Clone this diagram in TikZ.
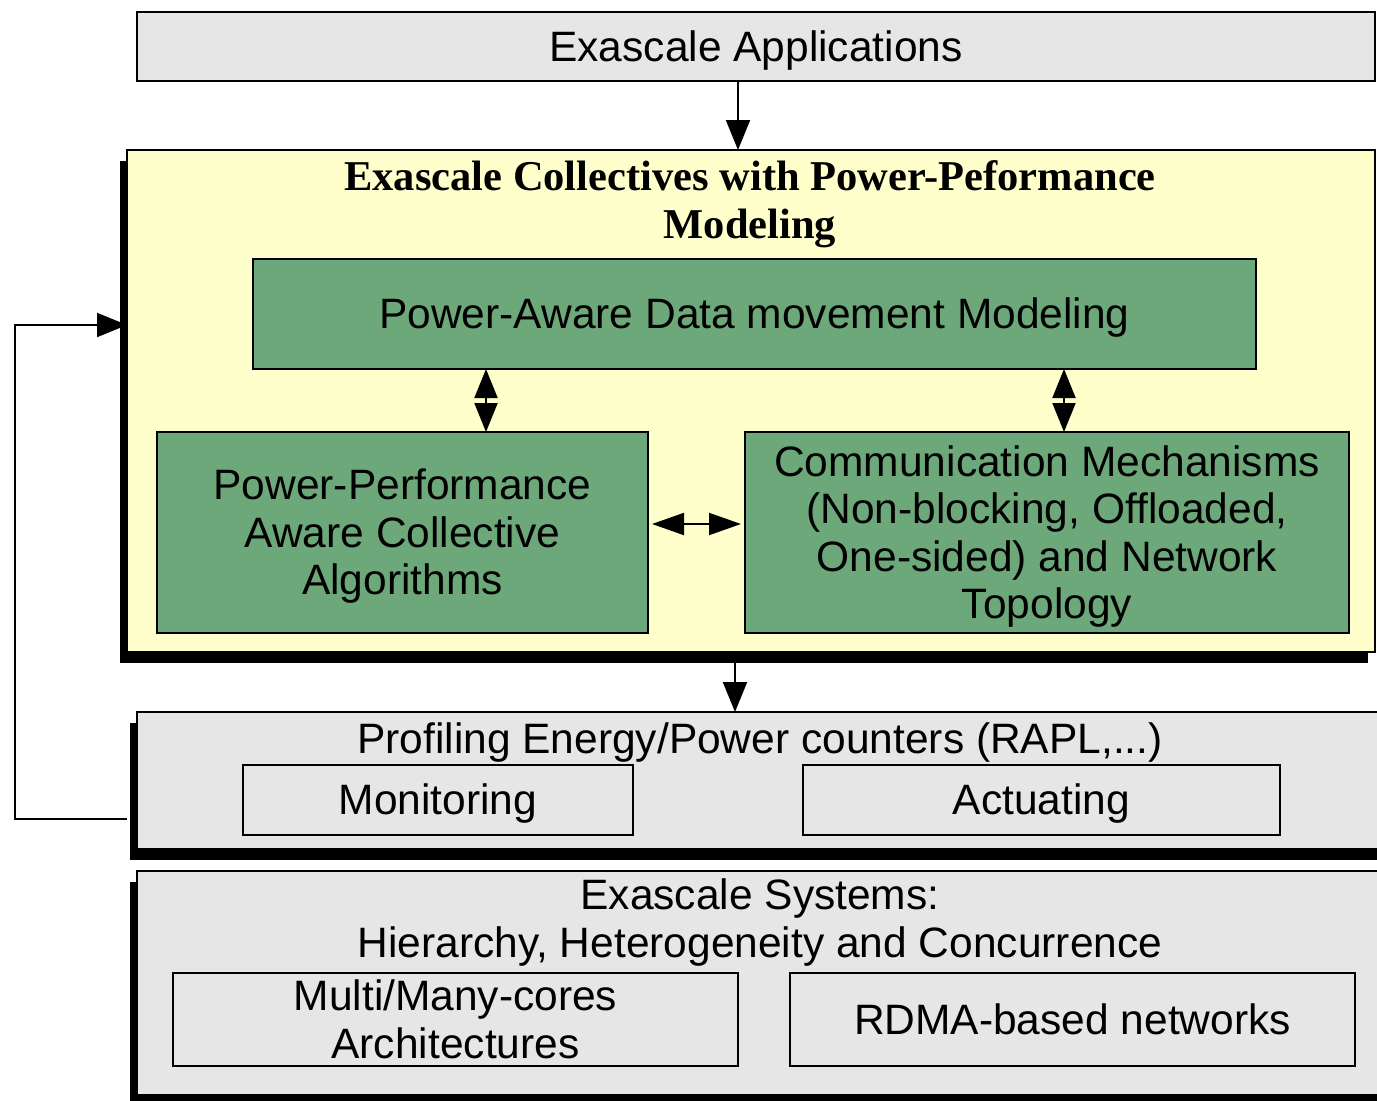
\documentclass[tikz,border=0pt]{standalone}
\usepackage{fontspec}
\setmainfont{Liberation Sans}
\newfontfamily\titlefont{Liberation Serif}
\usetikzlibrary{arrows.meta,shadows}
\definecolor{boxgray}{RGB}{230,230,230}
\definecolor{boxyellow}{RGB}{255,255,204}
\definecolor{boxgreen}{RGB}{108,168,122}
\begin{document}
\begin{tikzpicture}[x=1pt,y=-1pt,
  every node/.style={font=\fontsize{42.5}{47.5}\selectfont, inner sep=0pt, align=center},
  box/.style={draw=black, line width=2.5pt, minimum width=#1, outer sep=0pt},
  graybox/.style={box=#1, fill=boxgray},
  shadowed/.style={general shadow={fill=black, shadow xshift=-7.5pt, shadow yshift=-10.5pt}},
  greenbox/.style={draw=black, line width=2pt, fill=boxgreen, minimum width=#1, outer sep=0pt},
  innerbox/.style={draw=black, line width=2pt, minimum width=#1, outer sep=0pt},
  conn/.style={line width=2pt},
  tip/.style={-{Triangle[length=30pt,width=24pt]}},
  dtip/.style={{Triangle[length=29pt,width=23pt]}-{Triangle[length=29pt,width=23pt]}},
]
\path[use as bounding box] (0,0) rectangle (1377,1101);
\clip (0,0) rectangle (1377,1101);
% boxes
\node[graybox=1238pt, minimum height=69pt] (app) at (756,46.5) {};
\node (appt) at ([yshift=-4pt]app.center) {Exascale Applications};
\node[box=1248pt, minimum height=502pt, fill=boxyellow, shadowed] (yel) at (751,401) {};
\node[font=\titlefont\bfseries\fontsize{42.5}{47.5}\selectfont] (ttl) at (750,204) {Exascale Collectives with Power-Peformance\\Modeling};
\node[greenbox=1003pt, minimum height=110pt] (pam) at (754.5,314) {};
\node (pamt) at ([yshift=-4pt]pam.center) {Power-Aware Data movement Modeling};
\node[greenbox=491pt, minimum height=201pt] (ppa) at (402.5,532.5) {};
\node (ppat) at ([yshift=-4pt]ppa.center) {Power-Performance\\Aware Collective\\Algorithms};
\node[greenbox=604pt, minimum height=201pt] (comm) at (1047,532.5) {};
\node (commt) at ([yshift=-4pt]comm.center) {Communication Mechanisms\\(Non-blocking, Offloaded,\\One-sided) and Network\\Topology};
\node[graybox=1258pt, minimum height=137pt, shadowed] (prof) at (766,780.5) {};
\node (proft) at (760,743) {Profiling Energy/Power counters (RAPL,...)};
\node[innerbox=390pt, minimum height=70pt] (mon) at (438,800) {};
\node (mont) at ([yshift=-4pt]mon.center) {Monitoring};
\node[innerbox=477pt, minimum height=70pt] (act) at (1041.5,800) {};
\node (actt) at ([yshift=-4pt]act.center) {Actuating};
\node[graybox=1258pt, minimum height=224pt, shadowed] (sys) at (766,983) {};
\node[font=\fontsize{42.5}{49}\selectfont] (syst) at (760,922.5) {Exascale Systems:\\Hierarchy, Heterogeneity and Concurrence};
\node[innerbox=565pt, minimum height=93pt] (multi) at (455.5,1019.5) {};
\node[font=\fontsize{42.5}{48}\selectfont] (multit) at (multi.center) {Multi/Many-cores\\Architectures};
\node[innerbox=565pt, minimum height=93pt] (rdma) at (1072.5,1019.5) {};
\node (rdmat) at (rdma.center) {RDMA-based networks};
% helper coordinates
\coordinate (xa) at (738,0);
\coordinate (xb) at (735,0);
\coordinate (xc) at (486,0);
\coordinate (xd) at (1064,0);
\coordinate (yh) at (0,524);
\coordinate (fbs) at (127,819);
\coordinate (fbl) at (15,819);
\coordinate (fbu) at (15,325);
\coordinate (ya) at (0,325);
% connectors
\draw[conn,tip] (app.south -| xa) -- (yel.north -| xa);
\draw[conn,tip] (yel.south -| xb) -- (prof.north -| xb);
\draw[conn,dtip] (pam.south -| xc) -- (ppa.north -| xc);
\draw[conn,dtip] (pam.south -| xd) -- (comm.north -| xd);
\draw[conn,{Triangle[length=32pt,width=22pt]}-{Triangle[length=32pt,width=22pt]}] ([xshift=4pt]ppa.east |- yh) -- ([xshift=-4pt]comm.west |- yh);
\draw[conn,tip] (fbs) -- (fbl) -- (fbu) -- (yel.west |- ya);
\end{tikzpicture}
\end{document}
